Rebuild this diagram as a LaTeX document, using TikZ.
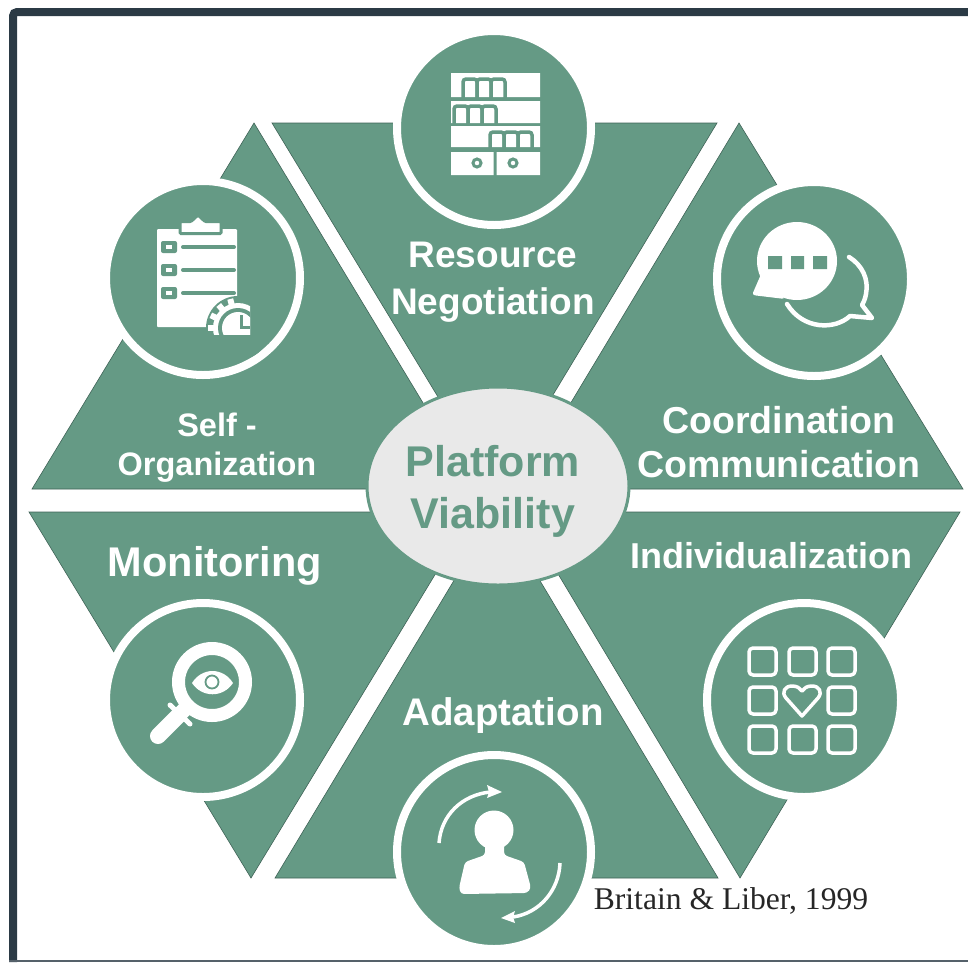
\documentclass[tikz,border=0pt]{standalone}
\usepackage{fontspec}
\setmainfont{Liberation Sans}
\newfontfamily\citefont{Liberation Serif}
\definecolor{plate}{HTML}{659A85}
\definecolor{plateedge}{HTML}{3F6357}
\definecolor{hubfill}{HTML}{E9E9E9}
\definecolor{framecol}{HTML}{2B3A45}
\tikzset{
	sector/.style = {fill=plate, draw=plateedge, line width=0.6pt, line join=miter},
	badge/.style = {circle, fill=plate, draw=white, line width=8pt, minimum size=194pt, inner sep=0pt},
	hub/.style = {ellipse, fill=hubfill, draw=plate, line width=3pt, minimum width=262pt, minimum height=198pt, inner sep=0pt},
	sectorlabel/.style = {align=center, text=white, inner sep=0pt, font=\bfseries},
	hublabel/.style = {align=center, text=plate, inner sep=0pt, font=\bfseries\fontsize{43}{52}\selectfont},
	solid white/.style = {fill=white, draw=none},
	stroke white/.style = {draw=white, line cap=round, line join=round},
	stroke plate/.style = {draw=plate, line cap=round, line join=round}
}
\usetikzlibrary{shapes.geometric}
\begin{document}
\begin{tikzpicture}[x=1pt, y=-1pt]
	\useasboundingbox (0,0) rectangle (968,962);
	\draw[framecol, line width=8pt, rounded corners=4pt] (13,962) -- (13,12) -- (968,12);
	\fill[framecol!80!white] (9,960) rectangle (968,962);

	\draw[sector] (272,123) -- (717,123) -- (495,491) -- cycle;
	\draw[sector] (739,123) -- (963,489) -- (519,489) -- cycle;
	\draw[sector] (254,123) -- (475,489) -- (32,489) -- cycle;
	\draw[sector] (29,512) -- (473,512) -- (251,878) -- cycle;
	\draw[sector] (275,878) -- (718,878) -- (497,509) -- cycle;
	\draw[sector] (521,512) -- (960,512) -- (740,878) -- cycle;

	\node[badge] (shelfbadge) at (494,128) {};
	\node[badge] (chatbadge) at (814,279) {};
	\node[badge] (gridbadge) at (804,700) {};
	\node[badge] (personbadge) at (494,852) {};
	\node[badge] (lensbadge) at (203,700) {};
	\node[badge] (boardbadge) at (203,278) {};
	\node[hub] (hubshape) at (498,486) {};

	\node[hublabel] (hubtext) at (493,491.5) {Platform\\Viability};
	\node[sectorlabel, font=\bfseries\fontsize{37}{47}\selectfont] (resourcetext) at (493,282) {Resource\\Negotiation};
	\node[sectorlabel, font=\bfseries\fontsize{37.5}{44}\selectfont] (coordtext) at (779,442) {Coordination\\Communication};
	\node[sectorlabel, font=\bfseries\fontsize{36}{44}\selectfont] (individualtext) at (771,556) {Individualization};
	\node[sectorlabel, font=\bfseries\fontsize{38.5}{46}\selectfont] (adapttext) at (503,716) {Adaptation};
	\node[sectorlabel, font=\bfseries\fontsize{41.5}{50}\selectfont] (monitortext) at (215,566) {Monitoring};
	\node[sectorlabel, font=\bfseries\fontsize{32.5}{39}\selectfont] (selforgtext) at (217,447.5) {Self -\\Organization};
	\node[inner sep=0pt, text=black!85, font=\citefont\fontsize{31.6}{36}\selectfont] (citetext) at (731,901) {Britain \& Liber, 1999};

	\fill[solid white] (451,73) rectangle (540,97) (451,101) rectangle (540,123) (451,126) rectangle (540,147);
	\fill[solid white] (451,152) rectangle (493.5,175) (496.5,152) rectangle (540,175);
	\foreach \bx in {463,477,491} \draw[plate, line width=3.5pt, rounded corners=3pt] (\bx,99) -- (\bx,79) -- (\bx+14,79) -- (\bx+14,99);
	\foreach \bx in {454,468,482} \draw[plate, line width=3.5pt, rounded corners=3pt] (\bx,125) -- (\bx,106) -- (\bx+14,106) -- (\bx+14,125);
	\foreach \bx in {490,504,518} \draw[plate, line width=3.5pt, rounded corners=3pt] (\bx,149) -- (\bx,132) -- (\bx+14,132) -- (\bx+14,149);
	\draw[plate, line width=3pt] (477,163) circle (4) (513,163) circle (4);

	\fill[solid white, rounded corners=1pt] (157,229) rectangle (237,327);
	\fill[plate] (238,328) circle (32);
	\fill[solid white, draw=plate, line width=3pt, rounded corners=1pt] (180,233.5) -- (180,221.5) -- (191,221.5) -- (198,215) -- (205,221.5) -- (221,221.5) -- (221,233.5) -- cycle;
	\foreach \rowy in {247,270,293} {
		\fill[plate, rounded corners=2pt] (161,\rowy-6) rectangle (177,\rowy+6);
		\fill[solid white] (166,\rowy-2) rectangle (172,\rowy+2);
		\draw[stroke plate, line width=4pt] (183,\rowy) -- (234,\rowy);
	}
	\begin{scope}
		\clip (205,295) rectangle (250,334);
		\foreach \gearang in {180,205,230,255} \draw[draw=white, line width=6pt] ([shift={(238,328)}]\gearang:22) -- ([shift={(238,328)}]\gearang:30);
		\fill[solid white] (238,328) circle (25);
		\fill[plate] (238,328) circle (20);
		\fill[solid white] (238,328) circle (16);
		\draw[plate, line width=3pt] (241,315) -- (241,327) -- (250,327);
	\end{scope}
	\fill[solid white] (223,331) rectangle (249,334);

	\fill[solid white] (797,261) ellipse (40 and 39);
	\fill[solid white, rounded corners=3pt] (762,272) -- (752,295) -- (785,299) -- cycle;
	\fill[plate] (768,256) rectangle (782,269) (791,256) rectangle (804,269) (813,256) rectangle (827,269);
	\draw[stroke white, line width=4.5pt] (849,257) .. controls (862,265) and (869,279) .. (866,294) .. controls (865,300) and (863,303) .. (862,305) -- (872,318) -- (850,316) .. controls (835,330) and (803,330) .. (787,304);

	\foreach \gridx in {749,789,828} \foreach \gridy in {648,726}
		\draw[stroke white, line width=3.5pt, rounded corners=4pt] (\gridx,\gridy) rectangle (\gridx+27,\gridy+27);
	\foreach \gridx in {749,828}
		\draw[stroke white, line width=3.5pt, rounded corners=4pt] (\gridx,687) rectangle (\gridx+27,714);
	\draw[stroke white, line width=3.5pt] (802,716) -- (786,698) .. controls (781,692) and (785,686) .. (792,686) .. controls (797,686) and (800,688) .. (802,691) .. controls (804,688) and (807,686) .. (812,686) .. controls (819,686) and (823,692) .. (818,698) -- cycle;

	\draw[white, line width=13pt] (212,682) circle (33.5);
	\draw[draw=white, line width=15pt] (192,702) -- (180,714);
	\draw[stroke white, line width=16pt] (178,716) -- (158,736);
	\draw[stroke white, line width=5pt] (170,705) -- (190,724);
	\fill[solid white] (192,683) .. controls (202,667) and (223,667) .. (233,683) .. controls (223,698) and (202,698) .. (192,683) -- cycle;
	\draw[plate, line width=1.8pt] (212,682) circle (6.5);

	\fill[solid white] (494,830) circle (19.5);
	\fill[solid white, rounded corners=3pt] (485,840) -- (485,855) -- (465,862) -- (459,888) -- (461,894) -- (527,893) -- (531,888) -- (524,862) -- (504,855) -- (504,840) -- cycle;
	\draw[draw=white, line width=3.5pt] (439,843) .. controls (441,815) and (462,795) .. (490,792);
	\fill[solid white] (502,792) -- (487,785) -- (489,792) -- (487,798) -- cycle;
	\draw[draw=white, line width=3.5pt] (560,863) .. controls (559,890) and (540,913) .. (513,917);
	\fill[solid white] (501,918) -- (515,911) -- (513,917) -- (515,923) -- cycle;
\end{tikzpicture}
\end{document}
